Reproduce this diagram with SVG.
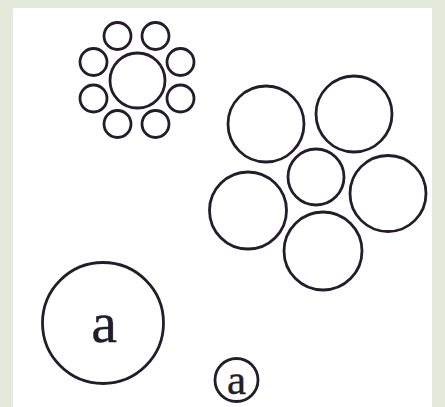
<svg xmlns="http://www.w3.org/2000/svg" width="445" height="407" viewBox="0 0 445 407">
<style>
.c{fill:none;stroke:#231c2b;stroke-width:2.8}
.t{fill:#231c2b;font-family:"Liberation Serif","DejaVu Serif",serif;text-anchor:middle;stroke:#231c2b;stroke-width:0.4}
</style>
<rect x="0" y="0" width="445" height="407" fill="#e3eadc"/>
<rect x="13" y="8" width="419" height="399" fill="#ffffff"/>
<g id="flower">
<circle class="c" cx="137.5" cy="80.5" r="27.5"/>
<circle class="c" cx="117.5" cy="36" r="13.5"/>
<circle class="c" cx="155.5" cy="36" r="13.5"/>
<circle class="c" cx="93.5" cy="62" r="13.5"/>
<circle class="c" cx="180.5" cy="62" r="13.5"/>
<circle class="c" cx="93.5" cy="98.5" r="13.5"/>
<circle class="c" cx="180.5" cy="98.5" r="13.5"/>
<circle class="c" cx="117.5" cy="124" r="13.5"/>
<circle class="c" cx="155.5" cy="124" r="13.5"/>
</g>
<g id="cluster">
<circle class="c" cx="266" cy="124" r="38"/>
<circle class="c" cx="354" cy="114" r="38"/>
<circle class="c" cx="316" cy="177" r="28"/>
<circle class="c" cx="248" cy="210.5" r="38.5"/>
<circle class="c" cx="388" cy="193.5" r="38"/>
<circle class="c" cx="323" cy="251" r="39"/>
</g>
<g id="big-a">
<circle class="c" cx="103" cy="323" r="60.5" stroke-width="2.3"/>
<text class="t" x="104" y="341.5" font-size="58">a</text>
</g>
<g id="small-a">
<circle class="c" cx="236.5" cy="380" r="21.5" stroke-width="2.5"/>
<text class="t" x="236.5" y="393.5" font-size="43">a</text>
</g>
</svg>
